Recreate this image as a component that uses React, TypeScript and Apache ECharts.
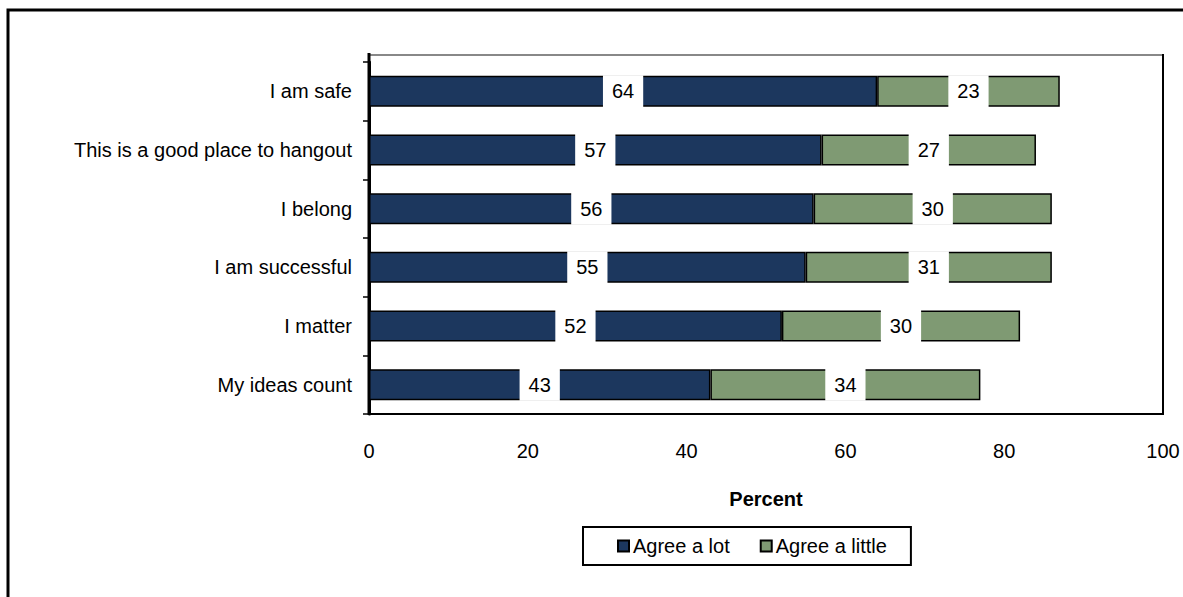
import React, { useEffect, useRef } from "react";
import * as echarts from "echarts";

const categories = [
  "I am safe",
  "This is a good place to hangout",
  "I belong",
  "I am successful",
  "I matter",
  "My ideas count",
];
const agreeALot = [64, 57, 56, 55, 52, 43];
const agreeALittle = [23, 27, 30, 31, 30, 34];
const seriesNames = ["Agree a lot", "Agree a little"];
const xTicks = { min: 0, max: 100, interval: 20 };
const xAxisTitle = "Percent";

const FONT = "Arial, 'Liberation Sans', sans-serif";
const NAVY = "#1C375E";
const GREEN = "#7F9A73";

export default function App() {
  const ref = useRef<HTMLDivElement>(null);
  useEffect(() => {
    if (!ref.current) return;
    const chart = echarts.init(ref.current, null, { renderer: "svg" });
    const label = {
      show: true,
      position: "inside",
      color: "#000",
      fontFamily: FONT,
      fontSize: 20,
      lineHeight: 20,
      backgroundColor: "#fff",
      padding: [6, 9, 6, 9],
    };
    const option: any = {
      animation: false,
      backgroundColor: "#fff",
      grid: {
        left: 369,
        right: 20,
        top: 62,
        bottom: 183,
        containLabel: false,
        outerBoundsMode: "none",
      },
      xAxis: {
        type: "value",
        min: xTicks.min,
        max: xTicks.max,
        interval: xTicks.interval,
        name: xAxisTitle,
        nameLocation: "middle",
        nameGap: 75,
        nameTextStyle: { fontFamily: FONT, fontSize: 20, fontWeight: "bold", color: "#000" },
        axisLine: { show: true, lineStyle: { color: "#000", width: 2 } },
        axisTick: { show: false },
        splitLine: { show: false },
        axisLabel: { fontFamily: FONT, fontSize: 20, color: "#000", margin: 27 },
      },
      yAxis: {
        type: "category",
        data: categories,
        inverse: true,
        axisLine: { show: true, lineStyle: { color: "#000", width: 3 } },
        axisTick: { show: true, length: 6, lineStyle: { color: "#000", width: 1.5 } },
        axisLabel: { fontFamily: FONT, fontSize: 20, color: "#000", margin: 17 },
      },
      legend: {
        data: seriesNames,
        left: 583,
        top: 527,
        orient: "horizontal",
        padding: [9, 24, 9, 34],
        borderColor: "#000",
        borderWidth: 2,
        itemWidth: 11,
        itemHeight: 11,
        itemGap: 30,
        icon: "rect",
        textStyle: { fontFamily: FONT, fontSize: 20, color: "#000", lineHeight: 20, padding: [0, 0, 0, -1] },
      },
      graphic: [
        {
          type: "rect",
          shape: { x: 8, y: 10, width: 1300, height: 700 },
          style: { fill: "none", stroke: "#000", lineWidth: 3 },
          silent: true,
        },
        {
          type: "line",
          shape: { x1: 369, y1: 55, x2: 1163, y2: 55 },
          style: { stroke: "#888", lineWidth: 2 },
          silent: true,
        },
        {
          type: "line",
          shape: { x1: 1163, y1: 54, x2: 1163, y2: 415 },
          style: { stroke: "#000", lineWidth: 2 },
          silent: true,
        },
        {
          type: "line",
          shape: { x1: 369, y1: 53, x2: 369, y2: 415 },
          style: { stroke: "#000", lineWidth: 3 },
          silent: true,
        },
      ],
      series: [
        {
          name: seriesNames[0],
          type: "bar",
          stack: "total",
          barWidth: 31,
          data: agreeALot,
          itemStyle: { color: NAVY, borderColor: "#000", borderWidth: 1.5 },
          label,
        },
        {
          name: seriesNames[1],
          type: "bar",
          stack: "total",
          barWidth: 31,
          data: agreeALittle,
          itemStyle: { color: GREEN, borderColor: "#000", borderWidth: 1.5 },
          label,
        },
      ],
    };
    chart.setOption(option);
    return () => chart.dispose();
  }, []);
  return (
    <div
      ref={ref}
      style={{ position: "absolute", left: 0, top: 0, width: 1183, height: 597 }}
    />
  );
}
